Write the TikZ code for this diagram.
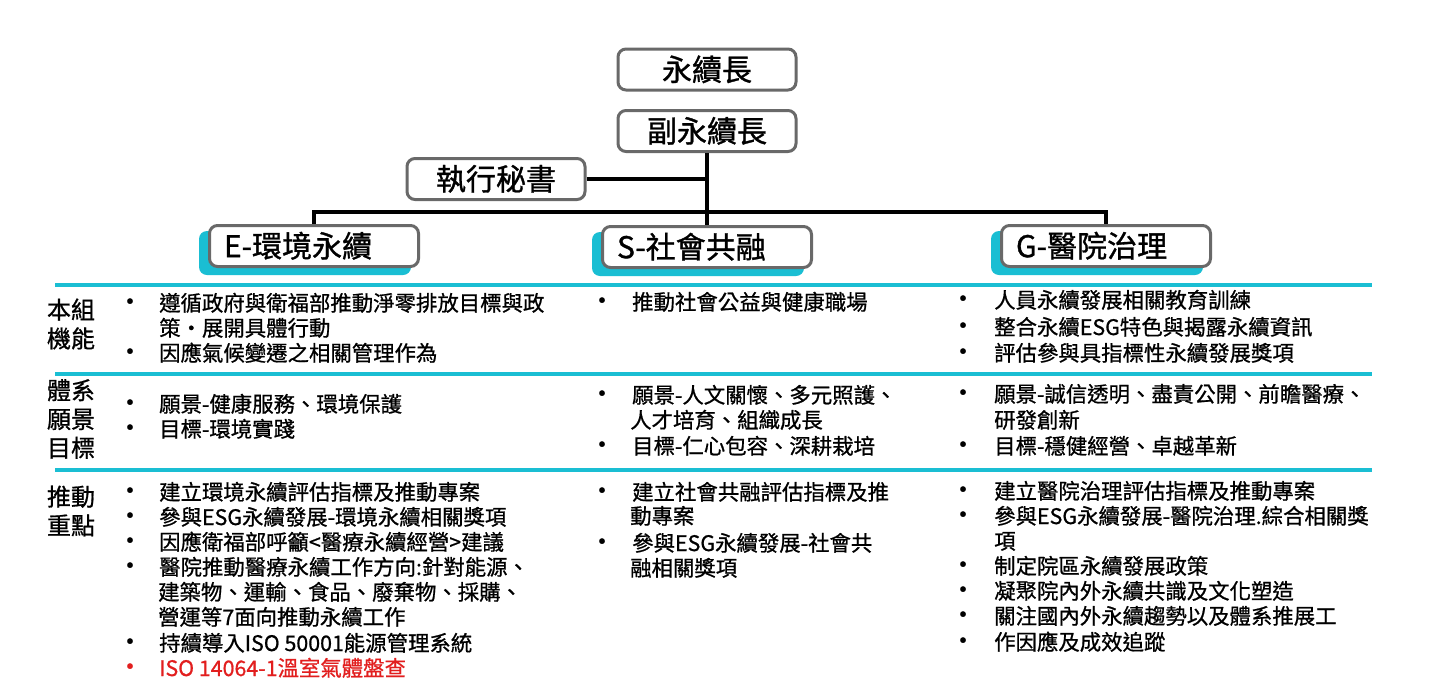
\documentclass[tikz,border=0pt]{standalone}
\usepackage{fontspec}
\usetikzlibrary{backgrounds}
\newfontfamily\bodyfam{Noto Sans CJK TC}[FakeBold=0.8]
\newfontfamily\titlefam{Noto Sans CJK TC}[FakeBold=1.1]
\definecolor{cyanc}{RGB}{26,190,211}
\definecolor{boxgray}{RGB}{105,105,105}
\definecolor{redc}{RGB}{226,30,30}
\begin{document}
\begin{tikzpicture}[x=1pt,y=-1pt,
 conn/.style={line width=4pt,draw=black},
 sepline/.style={line width=4pt,draw=cyanc},
 orgbox/.style={draw=boxgray,line width=3pt,fill=white,rounded corners=8pt,minimum height=41pt,inner sep=0pt,font=\titlefam\fontsize{30}{36}\selectfont,text height=26pt,text depth=3.6pt},
 topbox/.style={orgbox,minimum width=178pt},
 grpbox/.style={orgbox,minimum width=209pt,text width=180pt,align=left},
 shadowc/.style={fill=cyanc,rounded corners=8pt},
 body/.style={font=\bodyfam\fontsize{21.4}{25.5}\selectfont,anchor=base west,inner sep=0pt},
 bul/.style={font=\bodyfam\fontsize{26}{28}\selectfont,anchor=base,inner sep=0pt,text height=10pt,text depth=0pt},
 lab/.style={font=\bodyfam\fontsize{24}{28.8}\selectfont,align=center,inner sep=0pt}]
\useasboundingbox (0,0) rectangle (1445,683);
\begin{scope}[on background layer]
\fill[white] (0,0) rectangle (1445,683);
\end{scope}
% separators
\draw[sepline] (55,285) -- (1372,285);
\draw[sepline] (55,374) -- (1372,374);
\draw[sepline] (55,470) -- (1372,470);
% org boxes
\node[topbox] (chief) at (707,69.5) {永續長};
\node[topbox] (vice) at (707,131) {副永續長};
\node[topbox] (sec) at (496,179) {執行秘書};
\node[grpbox] (E) at (314,246) {E-環境永續};
\node[grpbox] (S) at (707,247) {S-社會共融};
\node[grpbox] (G) at (1106,246) {G-醫院治理};
\begin{scope}[on background layer]
\fill[shadowc] ([shift={(-9,7)}]E.south west) rectangle ([shift={(-9,7)}]E.north east);
\fill[shadowc] ([shift={(-9,7)}]S.south west) rectangle ([shift={(-9,7)}]S.north east);
\fill[shadowc] ([shift={(-9,7)}]G.south west) rectangle ([shift={(-9,7)}]G.north east);
\end{scope}
% connectors
\coordinate (busy) at (0,212);
\draw[conn] (vice.south) -- (S.north);
\draw[conn] (sec.east) -- (sec.east -| vice.south);
\draw[conn,line join=miter] (E.north) -- (E.north |- busy) -- (G.north |- busy) -- (G.north);
% row labels
\node[lab] (lab1) at (71,324) {本組\\機能};
\node[lab] (lab2) at (71,419) {體系\\願景\\目標};
\node[lab] (lab3) at (71,511) {推動\\重點};
% row 1
\node[bul] (e1b1) at (130,311) {•};
\node[body] (e1t1) at (159,311) {遵循政府與衛福部推動淨零排放目標與政};
\node[body] (e1t2) at (159,336) {策‧展開具體行動};
\node[bul] (e1b3) at (130,361) {•};
\node[body] (e1t3) at (159,361) {因應氣候變遷之相關管理作為};
\node[bul] (s1b1) at (602,310) {•};
\node[body] (s1t1) at (632,310) {推動社會公益與健康職場};
\node[bul] (g1b1) at (963,308) {•};
\node[body] (g1t1) at (994,308) {人員永續發展相關教育訓練};
\node[bul] (g1b2) at (963,335) {•};
\node[body] (g1t2) at (994,335) {整合永續ESG特色與揭露永續資訊};
\node[bul] (g1b3) at (963,361) {•};
\node[body] (g1t3) at (994,361) {評估參與具指標性永續發展獎項};
% row 2
\node[bul] (e2b1) at (130,412) {•};
\node[body] (e2t1) at (159,412) {願景-健康服務、環境保護};
\node[bul] (e2b2) at (130,437) {•};
\node[body] (e2t2) at (159,437) {目標-環境實踐};
\node[bul] (s2b1) at (602,403) {•};
\node[body] (s2t1) at (632,403) {願景-人文關懷、多元照護、};
\node[body] (s2t2) at (630,428) {人才培育、組織成長};
\node[bul] (s2b3) at (602,454) {•};
\node[body] (s2t3) at (632,454) {目標-仁心包容、深耕栽培};
\node[bul] (g2b1) at (963,402) {•};
\node[body] (g2t1) at (994,402) {願景-誠信透明、盡責公開、前瞻醫療、};
\node[body] (g2t2) at (994,428) {研發創新};
\node[bul] (g2b3) at (963,454) {•};
\node[body] (g2t3) at (994,454) {目標-穩健經營、卓越革新};
% row 3
\node[bul] (e3b1) at (130,500) {•};
\node[body] (e3t1) at (159,500) {建立環境永續評估指標及推動專案};
\node[bul] (e3b2) at (130,525) {•};
\node[body] (e3t2) at (159,525) {參與ESG永續發展-環境永續相關獎項};
\node[bul] (e3b3) at (130,550) {•};
\node[body] (e3t3) at (159,550) {因應衛福部呼籲<醫療永續經營>建議};
\node[bul] (e3b4) at (130,575) {•};
\node[body] (e3t4) at (159,575) {醫院推動醫療永續工作方向:針對能源、};
\node[body] (e3t5) at (158,600) {建築物、運輸、食品、廢棄物、採購、};
\node[body] (e3t6) at (158,625) {營運等7面向推動永續工作};
\node[bul] (e3b7) at (130,651) {•};
\node[body] (e3t7) at (159,651) {持續導入ISO 50001能源管理系統};
\node[bul,text=redc] (e3b8) at (130,676) {•};
\node[body,text=redc] (e3t8) at (159,676) {ISO 14064-1溫室氣體盤查};
\node[bul] (s3b1) at (602,500) {•};
\node[body] (s3t1) at (632,500) {建立社會共融評估指標及推};
\node[body] (s3t2) at (630,524) {動專案};
\node[bul] (s3b3) at (602,551) {•};
\node[body] (s3t3) at (632,551) {參與ESG永續發展-社會共};
\node[body] (s3t4) at (630,576) {融相關獎項};
\node[bul] (g3b1) at (963,499) {•};
\node[body] (g3t1) at (994,499) {建立醫院治理評估指標及推動專案};
\node[bul] (g3b2) at (963,524) {•};
\node[body] (g3t2) at (994,524) {參與ESG永續發展-醫院治理.綜合相關獎};
\node[body] (g3t3) at (994,549) {項};
\node[bul] (g3b4) at (963,574) {•};
\node[body] (g3t4) at (994,574) {制定院區永續發展政策};
\node[bul] (g3b5) at (963,599) {•};
\node[body] (g3t5) at (994,599) {凝聚院內外永續共識及文化塑造};
\node[bul] (g3b6) at (963,624) {•};
\node[body] (g3t6) at (994,624) {關注國內外永續趨勢以及體系推展工};
\node[bul] (g3b7) at (963,650) {•};
\node[body] (g3t7) at (994,650) {作因應及成效追蹤};
\end{tikzpicture}
\end{document}
